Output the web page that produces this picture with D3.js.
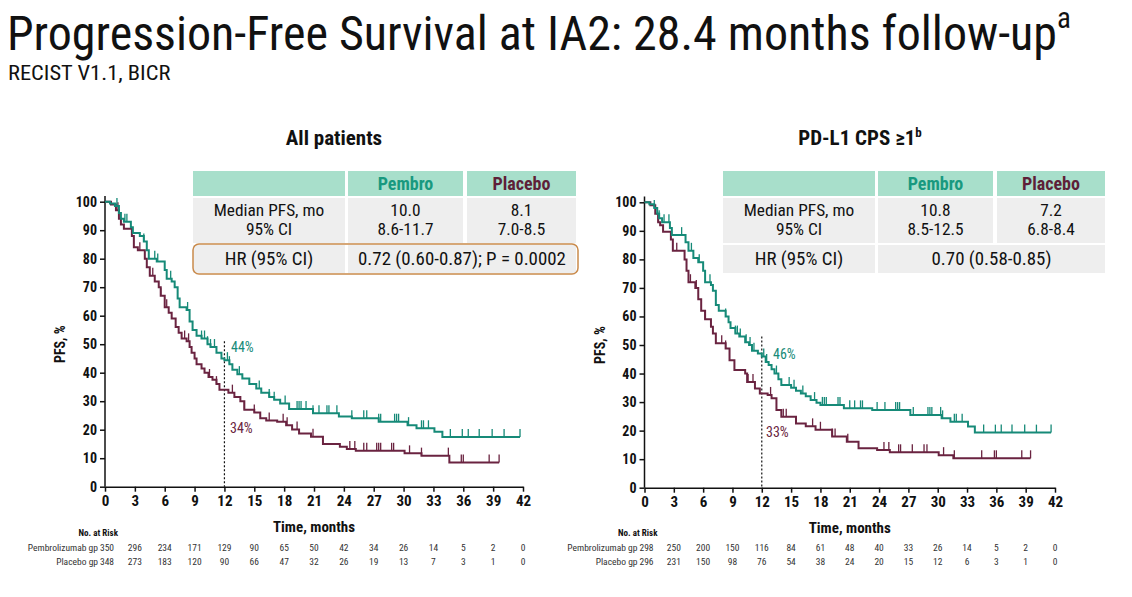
<!DOCTYPE html>
<html><head><meta charset="utf-8">
<script src="https://cdn.jsdelivr.net/npm/d3@7"></script>
<style>body{margin:0;background:#fff}svg{display:block}</style>
</head><body>
<svg id="c" width="1132" height="597"></svg>
<script>
// ---------- DATA ----------
const timeTicks = [0,3,6,9,12,15,18,21,24,27,30,33,36,39,42];
const pfsTicks = [0,10,20,30,40,50,60,70,80,90,100];

// All patients
const allPembroSteps = [[0,100],[0.5,99.4],[1.0,98.5],[1.4,96],[1.6,94],[1.9,93],[2.6,91],[2.8,89],[3.5,88],[3.9,86],[4.2,83],[4.4,80],[5.2,79],[6.0,76],[6.2,73],[6.7,72],[7.0,70],[7.3,66],[7.5,63],[8.2,62],[8.5,58],[8.8,55],[9.2,53],[9.7,52],[10.3,50],[10.6,49],[11.2,47],[11.7,45],[12.0,44.4],[12.5,43],[12.8,41],[13.3,39.5],[13.8,38],[14.5,36],[15.2,34.5],[15.7,33],[16.5,31.5],[17.0,30.5],[17.6,29.2],[18.5,27.3],[20.9,25.8],[23.5,24.6],[24.8,24.0],[27.5,22.8],[30.4,21.6],[31.3,20.5],[33.1,19.3],[33.9,17.4],[41.7,17.4]];
const allPlaceboSteps = [[0,100],[0.6,99],[1.1,97],[1.4,94],[1.6,92],[1.9,90.5],[2.7,88],[2.9,84],[3.3,83],[4.0,80],[4.2,77],[4.5,74],[5.0,72],[5.4,70],[5.6,67],[6.0,63],[6.4,61],[6.7,59],[7.1,56],[7.4,54],[7.7,52],[8.2,51],[8.5,49],[8.7,47],[9.0,45],[9.2,43],[9.7,41.5],[10.0,40],[10.4,38.5],[10.8,37.5],[11.2,36],[11.5,34],[12.4,33],[13.0,31.5],[13.6,30],[14.0,27],[15.0,26],[15.6,24],[16.2,23.2],[17.3,22.8],[18.2,21.6],[18.8,20.1],[19.5,18.7],[20.7,17.5],[21.9,15],[23.6,14],[24.3,13.2],[25.2,12.6],[30.1,11.7],[31.8,10.9],[34.6,8.5],[39.6,8.5]];
const allPembroCensor = [1.2,2.0,2.2,3.9,5.0,5.3,6.6,8.3,9.7,10.0,10.3,10.6,11.0,12.3,12.5,13.5,15.5,16.5,17.0,18.1,19.3,19.5,19.7,20.2,20.9,21.5,22.3,22.5,23.3,24.8,26.0,26.3,27.5,27.7,29.1,29.3,29.5,30.5,31.8,32.0,32.5,34.7,35.9,36.5,37.6,38.9,40.1,41.7];
const allPlaceboCensor = [1.3,3.5,4.8,5.6,6.2,8.0,8.4,10.5,11.2,12.8,14.0,15.0,16.5,17.9,18.3,19.3,20.9,24.6,25.1,26.0,26.3,27.3,27.5,27.7,28.8,29.0,30.6,31.8,34.5,35.8,36.0,38.6,39.6];
const allRiskPembro = [350,296,234,171,129,90,65,50,42,34,26,14,5,2,0];
const allRiskPlacebo = [348,273,183,120,90,66,47,32,26,19,13,7,3,1,0];

// PD-L1 CPS >= 1
const cpsPembroSteps = [[0,100],[0.5,99.3],[1.0,98],[1.3,96],[1.5,94.4],[1.8,93],[2.6,91],[2.8,88.5],[4.2,86],[4.5,83],[5.0,80.5],[5.5,79],[6.0,76],[6.2,72],[6.8,71],[7.0,69],[7.3,64],[7.6,62],[8.3,60],[8.6,58],[8.8,56],[9.3,54],[9.7,53],[10.3,51],[10.7,50],[11.0,48],[11.6,47],[12.0,46],[12.4,44],[12.7,43],[13.0,41.5],[13.3,40],[13.7,38],[14.0,36],[15.0,35],[15.5,34],[16.0,33],[16.5,32],[17.0,30.7],[17.6,29.8],[18.0,29],[20.4,27.8],[23.3,27.2],[27.2,25.5],[30.4,24.3],[31.3,23.1],[33.1,21.4],[33.8,19.3],[41.6,19.3]];
const cpsPlaceboSteps = [[0,100],[0.6,99],[1.1,96],[1.4,93],[1.6,92],[1.9,89.7],[2.7,87],[2.9,83],[4.1,80],[4.3,76],[4.5,72],[5.2,70],[5.5,66],[5.8,62],[6.2,59],[6.8,56.4],[7.0,54],[7.3,50.6],[8.3,48.8],[8.7,44.7],[9.2,41.2],[10.3,40],[10.5,37],[11.3,34.8],[11.8,33],[12.6,32.5],[13.0,31.3],[13.5,27.2],[14.0,24.9],[15.5,22.5],[16.5,21.5],[17.5,20.3],[19.2,17.9],[20.7,16.1],[21.9,13.8],[23.8,13.2],[25.1,12.4],[30.1,11.4],[31.6,10.3],[39.5,10.3]];
const cpsPembroCensor = [1.0,1.5,2.0,2.5,3.8,4.8,5.6,6.7,8.3,9.3,9.5,9.8,10.4,10.8,11.2,12.2,12.5,13.5,14.8,15.3,16.2,17.4,18.2,18.4,18.6,19.8,20.0,21.0,21.5,22.1,22.3,23.8,24.6,25.7,25.9,26.1,27.5,29.0,29.2,29.4,30.3,30.5,31.7,31.9,32.5,34.7,35.9,36.5,37.6,38.9,40.1,41.6];
const cpsPlaceboCensor = [1.4,3.3,4.7,5.3,6.2,7.9,8.3,10.6,11.1,12.9,14.2,14.5,17.2,18.0,19.2,19.5,20.8,24.5,25.0,26.0,26.2,27.4,28.6,28.9,30.6,31.7,34.5,35.8,36.0,38.6,39.5];
const cpsRiskPembro = [298,250,200,150,116,84,61,48,40,33,26,14,5,2,0];
const cpsRiskPlacebo = [296,231,150,98,76,54,38,24,20,15,12,6,3,1,0];

const tableHeaders = ["", "Pembro", "Placebo"];
const allTable = {median:["10.0","8.1"], ci:["8.6-11.7","7.0-8.5"], hr:"0.72 (0.60-0.87); P = 0.0002"};
const cpsTable = {median:["10.8","7.2"], ci:["8.5-12.5","6.8-8.4"], hr:"0.70 (0.58-0.85)"};
const landmarks = {all:[44,34], cps:[46,33]};

// ---------- STYLE ----------
const FONT = "'Liberation Sans Narrow','Arial Narrow','Roboto Condensed','Liberation Sans',Arial,sans-serif";
const TEAL = "#168a78", MAROON = "#6a2340";
const svg = d3.select("#c").style("font-family", FONT);

function stretch(sel, k){
  const n = sel.node(); const w = n.getComputedTextLength();
  sel.attr("textLength", w*k).attr("lengthAdjust","spacingAndGlyphs");
  return sel;
}

svg.append("text").attr("x",7).attr("y",50).attr("font-size",48).attr("fill","#111")
  .text("Progression-Free Survival at IA2: 28.4 months follow-up");
svg.append("text").attr("x",1057).attr("y",28).attr("font-size",29).attr("fill","#111").text("a");
stretch(svg.append("text").attr("x",8).attr("y",80).attr("font-size",21).attr("fill","#111").text("RECIST V1.1, BICR"), 1.07);

function panel(cfg){
  const x = d3.scaleLinear().domain([0,42]).range([cfg.x0, cfg.x1]);
  const y = d3.scaleLinear().domain([0,100]).range([cfg.y0, cfg.y1]);
  const g = svg.append("g");

  // panel title
  const t = g.append("text").attr("x",cfg.titleX).attr("y",145).attr("text-anchor","middle")
    .attr("font-size",21).attr("font-weight","bold").attr("fill","#111");
  t.append("tspan").text(cfg.title);
  if(cfg.titleSup) t.append("tspan").attr("font-size",13).attr("dy",-8).text(cfg.titleSup);

  // axes
  const ya = g.append("g").attr("transform",`translate(${cfg.x0},0)`)
    .call(d3.axisLeft(y).tickValues(pfsTicks).tickSize(5).tickSizeOuter(0).tickPadding(3));
  const xa = g.append("g").attr("transform",`translate(0,${cfg.y0})`)
    .call(d3.axisBottom(x).tickValues(timeTicks).tickSize(5).tickSizeOuter(0).tickPadding(4));
  [ya,xa].forEach(a=>{
    a.selectAll("path,line").attr("stroke","#111").attr("stroke-width",1.5);
    a.selectAll("text").attr("font-size",14).attr("font-weight","bold").attr("fill","#111").attr("font-family",FONT);
  });
  ya.select(".domain").attr("d",`M0,${cfg.y0}V${y(102)}`);
  xa.selectAll("text").attr("font-size",15);

  g.append("text").attr("transform",`translate(${cfg.x0-40},${y(50)}) rotate(-90)`).attr("text-anchor","middle")
    .attr("font-size",14).attr("font-weight","bold").attr("fill","#111").text("PFS, %");
  g.append("text").attr("x",(cfg.x0+cfg.x1)/2).attr("y",cfg.y0+45).attr("text-anchor","middle")
    .attr("font-size",15).attr("font-weight","bold").attr("fill","#111").text("Time, months");

  // dotted 12-month line
  g.append("line").attr("x1",x(12)).attr("x2",x(12)).attr("y1",y(cfg.dotTop)).attr("y2",cfg.y0)
    .attr("stroke","#111").attr("stroke-width",1.2).attr("stroke-dasharray","2,2");

  const line = d3.line().x(d=>x(d[0])).y(d=>y(d[1])).curve(d3.curveStepAfter);
  function valAt(steps,t){ let v=steps[0][1]; for(const s of steps){ if(s[0]<=t) v=s[1]; } return v; }
  [[cfg.placebo,cfg.placeboC,MAROON],[cfg.pembro,cfg.pembroC,TEAL]].forEach(([st,cs,col])=>{
    g.append("path").attr("d",line(st)).attr("fill","none").attr("stroke",col).attr("stroke-width",2);
    g.selectAll(null).data(cs).enter().append("line")
      .attr("x1",d=>x(d)).attr("x2",d=>x(d)).attr("y1",d=>y(valAt(st,d))).attr("y2",d=>y(valAt(st,d))-8)
      .attr("stroke",col).attr("stroke-width",1.3);
  });

  g.append("text").attr("x",cfg.lab1[0]).attr("y",cfg.lab1[1]).attr("font-size",14).attr("fill",TEAL).text(cfg.land[0]+"%");
  g.append("text").attr("x",cfg.lab2[0]).attr("y",cfg.lab2[1]).attr("font-size",14).attr("fill",MAROON).text(cfg.land[1]+"%");

  // table
  const tb = cfg.table, c = cfg.cols;
  const hdrFill = "#a8dfcb";
  c.forEach((col,i)=>{
    g.append("rect").attr("x",col[0]).attr("y",171).attr("width",col[1]-col[0]).attr("height",25).attr("fill",hdrFill);
    g.append("rect").attr("x",col[0]).attr("y",198).attr("width",col[1]-col[0]).attr("height",45).attr("fill","#eeeeee");
  });
  g.append("rect").attr("x",c[0][0]).attr("y",245).attr("width",c[0][1]-c[0][0]).attr("height",28).attr("fill","#eeeeee");
  g.append("rect").attr("x",c[1][0]).attr("y",245).attr("width",c[2][1]-c[1][0]).attr("height",28).attr("fill","#eeeeee");
  if(cfg.hrBorder){
    g.append("rect").attr("x",c[0][0]).attr("y",244).attr("width",c[2][1]-c[0][0]+2).attr("height",30).attr("rx",6)
      .attr("fill","none").attr("stroke","#c98a4b").attr("stroke-width",1.5);
  }
  const cx = i => (c[i][0]+c[i][1])/2;
  g.append("text").attr("x",cx(1)).attr("y",190).attr("text-anchor","middle").attr("font-size",18).attr("font-weight","bold").attr("fill","#19997f").text(tableHeaders[1]);
  g.append("text").attr("x",cx(2)).attr("y",190).attr("text-anchor","middle").attr("font-size",18).attr("font-weight","bold").attr("fill","#5e1f38").text(tableHeaders[2]);
  const tt = (xx,yy,s,fs)=>stretch(g.append("text").attr("x",xx).attr("y",yy).attr("text-anchor","middle").attr("font-size",fs||16.5).attr("fill","#111").text(s), 1.05);
  tt(cx(0),216,"Median PFS, mo"); tt(cx(0),235,"95% CI");
  tt(cx(1),216,tb.median[0]); tt(cx(1),235,tb.ci[0]);
  tt(cx(2),216,tb.median[1]); tt(cx(2),235,tb.ci[1]);
  tt(cx(0),265,"HR (95% CI)",18);
  tt((c[1][0]+c[2][1])/2,265,tb.hr,18);

  // at-risk table
  const fs = 9.5;
  g.append("text").attr("x",cfg.x0+13).attr("y",536).attr("text-anchor","end").attr("font-size",9).attr("font-weight","bold").attr("fill","#111").text("No. at Risk");
  [[cfg.riskP,"Pembrolizumab gp",551],[cfg.riskC,"Placebo gp",565]].forEach(([arr,lab,yy])=>{
    g.append("text").attr("x",cfg.x0-7).attr("y",yy).attr("text-anchor","end").attr("font-size",fs).attr("fill","#333").text(lab);
    g.selectAll(null).data(arr).enter().append("text")
      .attr("x",(d,i)=>x(timeTicks[i])+(i===0?2:0)).attr("y",yy).attr("text-anchor","middle").attr("font-size",fs).attr("fill","#333").text(d=>d);
  });
}

panel({x0:105,x1:523,y0:486.7,y1:201.7,title:"All patients",titleX:334,
  pembro:allPembroSteps,placebo:allPlaceboSteps,pembroC:allPembroCensor,placeboC:allPlaceboCensor,
  riskP:allRiskPembro,riskC:allRiskPlacebo,land:landmarks.all,dotTop:51,
  lab1:[231,352],lab2:[230,433],table:allTable,cols:[[193,345],[348,463],[467,576]],hrBorder:true});
panel({x0:644.5,x1:1055,y0:487.7,y1:202.3,title:"PD-L1 CPS \u22651",titleSup:"b",titleX:860,
  pembro:cpsPembroSteps,placebo:cpsPlaceboSteps,pembroC:cpsPembroCensor,placeboC:cpsPlaceboCensor,
  riskP:cpsRiskPembro,riskC:cpsRiskPlacebo,land:landmarks.cps,dotTop:53,
  lab1:[773,359],lab2:[766,437],table:cpsTable,cols:[[723,875],[878,993],[997,1105]],hrBorder:false});
</script>
</body></html>
